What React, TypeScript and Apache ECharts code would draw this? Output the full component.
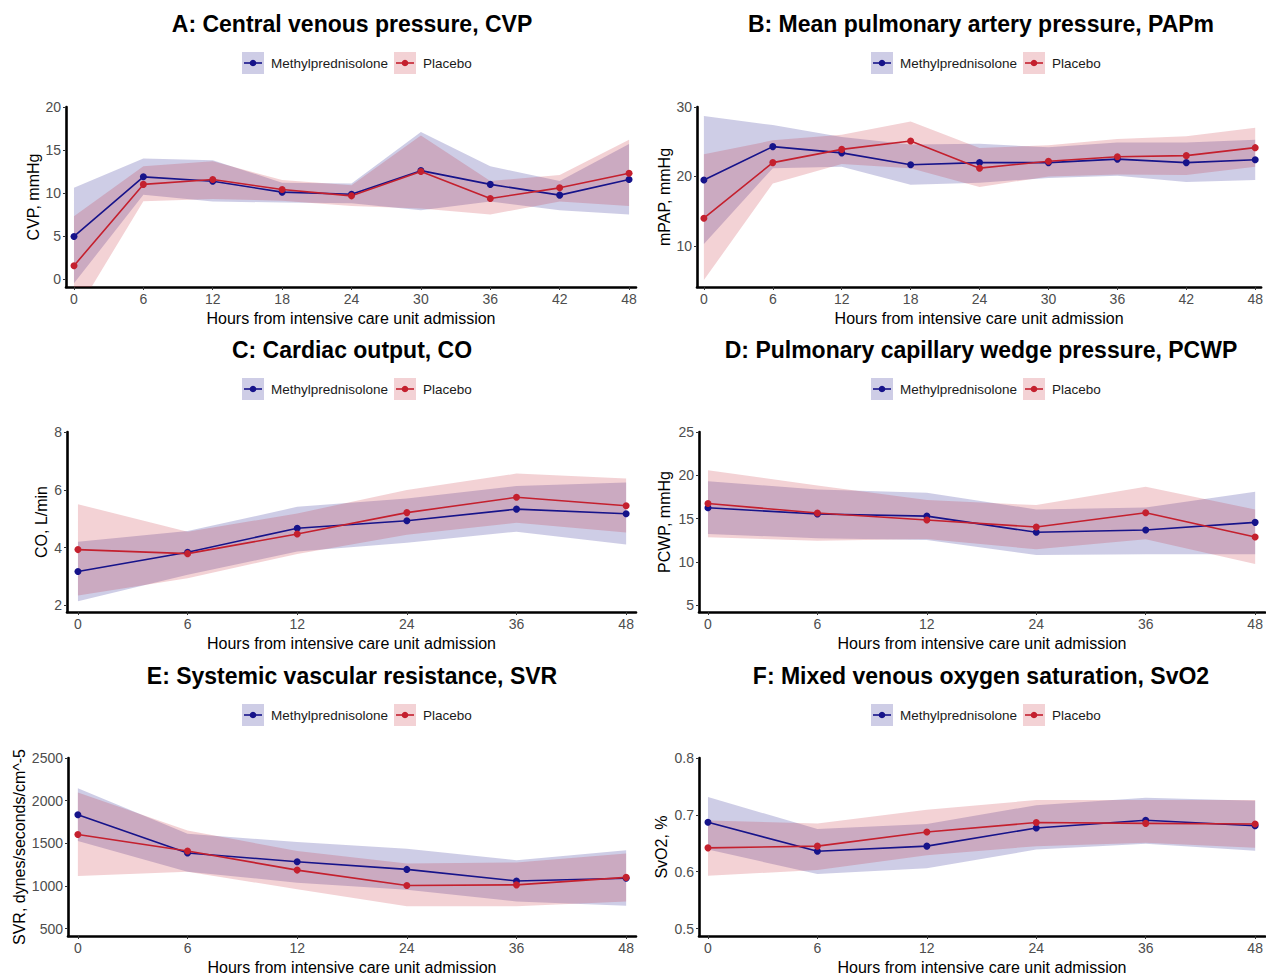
import React, { useEffect, useRef } from "react";
import * as echarts from "echarts";

// ---------- DATA ----------
const hours9 = ["0", "6", "12", "18", "24", "30", "36", "42", "48"];
const hours6 = ["0", "6", "12", "24", "36", "48"];

// A: CVP
const cvpMpMean = [4.95, 11.88, 11.37, 10.1, 9.86, 12.6, 11.0, 9.75, 11.57];
const cvpMpUpper = [10.6, 14.0, 13.8, 11.2, 11.1, 17.1, 13.1, 11.4, 15.7];
const cvpMpLower = [-0.5, 9.8, 9.0, 8.9, 8.8, 8.0, 9.0, 8.0, 7.5];
const cvpPlMean = [1.55, 11.0, 11.57, 10.4, 9.67, 12.5, 9.36, 10.6, 12.3];
const cvpPlUpper = [7.3, 13.1, 13.7, 11.5, 10.9, 16.7, 11.4, 12.1, 16.2];
const cvpPlLower = [-4.3, 9.05, 9.3, 9.1, 8.5, 8.2, 7.5, 9.0, 8.5];

// B: mPAP
const papMpMean = [19.5, 24.3, 23.4, 21.7, 22.0, 22.0, 22.5, 22.0, 22.4];
const papMpUpper = [28.7, 27.4, 25.7, 24.6, 24.7, 24.2, 24.9, 24.9, 25.3];
const papMpLower = [10.3, 21.2, 21.4, 18.8, 19.1, 19.8, 20.1, 19.2, 19.5];
const papPlMean = [14.0, 22.0, 23.9, 25.1, 21.2, 22.2, 22.85, 23.0, 24.15];
const papPlUpper = [23.2, 25.2, 26.0, 27.9, 24.1, 24.5, 25.4, 25.8, 27.0];
const papPlLower = [5.1, 19.0, 21.8, 21.2, 18.5, 20.0, 20.3, 20.2, 21.4];

// C: CO
const coMpMean = [3.17, 3.84, 4.67, 4.93, 5.33, 5.17];
const coMpUpper = [4.2, 4.57, 5.41, 5.7, 6.13, 6.25];
const coMpLower = [2.14, 3.06, 3.86, 4.17, 4.55, 4.11];
const coPlMean = [3.93, 3.79, 4.47, 5.21, 5.74, 5.45];
const coPlUpper = [5.5, 4.55, 5.18, 5.99, 6.56, 6.39];
const coPlLower = [2.34, 2.94, 3.78, 4.44, 4.86, 4.52];

// D: PCWP
const pcwpMpMean = [16.26, 15.54, 15.3, 13.43, 13.7, 14.58];
const pcwpMpUpper = [19.33, 18.37, 17.99, 16.07, 16.3, 18.1];
const pcwpMpLower = [13.24, 12.74, 12.55, 10.82, 10.9, 10.9];
const pcwpPlMean = [16.76, 15.65, 14.85, 14.04, 15.69, 12.89];
const pcwpPlUpper = [20.6, 18.83, 17.15, 16.57, 18.68, 16.07];
const pcwpPlLower = [12.85, 12.47, 12.66, 11.47, 12.62, 9.79];

// E: SVR
const svrMpMean = [1836, 1388, 1284, 1195, 1060, 1091];
const svrMpUpper = [2145, 1612, 1515, 1438, 1303, 1419];
const svrMpLower = [1527, 1168, 1040, 956, 820, 770];
const svrPlMean = [1604, 1411, 1187, 1006, 1014, 1102];
const svrPlUpper = [2095, 1651, 1411, 1264, 1276, 1380];
const svrPlLower = [1118, 1168, 963, 763, 763, 820];

// F: SvO2
const svoMpMean = [0.687, 0.636, 0.645, 0.677, 0.6905, 0.681];
const svoMpUpper = [0.7316, 0.675, 0.684, 0.717, 0.73, 0.725];
const svoMpLower = [0.639, 0.596, 0.606, 0.639, 0.649, 0.637];
const svoPlMean = [0.642, 0.645, 0.67, 0.6865, 0.685, 0.684];
const svoPlUpper = [0.69, 0.685, 0.709, 0.726, 0.726, 0.726];
const svoPlLower = [0.593, 0.603, 0.629, 0.645, 0.651, 0.642];

const yTicksA = [0, 5, 10, 15, 20];
const yTicksB = [10, 20, 30];
const yTicksC = [2, 4, 6, 8];
const yTicksD = [5, 10, 15, 20, 25];
const yTicksE = [500, 1000, 1500, 2000, 2500];
const yTicksF = [0.5, 0.6, 0.7, 0.8];

const seriesNames = ["Methylprednisolone", "Placebo"];
const xAxisTitle = "Hours from intensive care unit admission";

// ---------- STYLE ----------
const FONT = "'Liberation Sans', Arial, Helvetica, sans-serif";
const MP_COLOR = "#16138a";
const PL_COLOR = "#c4202e";
const MP_FILL = "rgba(22,19,138,0.21)";
const PL_FILL = "rgba(196,32,46,0.2)";

const panels = [
  {
    title: "A: Central venous pressure, CVP", yName: "CVP, mmHg", hours: hours9,
    mp: [cvpMpMean, cvpMpLower, cvpMpUpper], pl: [cvpPlMean, cvpPlLower, cvpPlUpper],
    yTicks: yTicksA, yMin: -0.93, yMax: 20, xMin: -0.115, xMax: 8.1,
    grid: { left: 66, top: 107, width: 570, height: 180 }, cx: 352, ty: 24, ly: 63, lx: 242, yGap: 24, dec: 0,
  },
  {
    title: "B: Mean pulmonary artery pressure, PAPm", yName: "mPAP, mmHg", hours: hours9,
    mp: [papMpMean, papMpLower, papMpUpper], pl: [papPlMean, papPlLower, papPlUpper],
    yTicks: yTicksB, yMin: 4.1, yMax: 30, xMin: -0.1, xMax: 8.086,
    grid: { left: 697, top: 107, width: 568, height: 180 }, cx: 981, ty: 24, ly: 63, lx: 871, yGap: 25, dec: 0,
  },
  {
    title: "C: Cardiac output, CO", yName: "CO, L/min", hours: hours6,
    mp: [coMpMean, coMpLower, coMpUpper], pl: [coPlMean, coPlLower, coPlUpper],
    yTicks: yTicksC, yMin: 1.77, yMax: 8, xMin: -0.1, xMax: 5.09,
    grid: { left: 67, top: 432, width: 569, height: 180 }, cx: 352, ty: 350, ly: 389, lx: 242, yGap: 18, dec: 0,
  },
  {
    title: "D: Pulmonary capillary wedge pressure, PCWP", yName: "PCWP, mmHg", hours: hours6,
    mp: [pcwpMpMean, pcwpMpLower, pcwpMpUpper], pl: [pcwpPlMean, pcwpPlLower, pcwpPlUpper],
    yTicks: yTicksD, yMin: 4.24, yMax: 25, xMin: -0.082, xMax: 5.09,
    grid: { left: 699, top: 432, width: 566, height: 180 }, cx: 981, ty: 350, ly: 389, lx: 871, yGap: 27, dec: 0,
  },
  {
    title: "E: Systemic vascular resistance, SVR", yName: "SVR, dynes/seconds/cm^-5", hours: hours6,
    mp: [svrMpMean, svrMpLower, svrMpUpper], pl: [svrPlMean, svrPlLower, svrPlUpper],
    yTicks: yTicksE, yMin: 415, yMax: 2500, xMin: -0.09, xMax: 5.09,
    grid: { left: 68, top: 758, width: 568, height: 180 }, cx: 352, ty: 676, ly: 715, lx: 242, yGap: 41, dec: 0,
  },
  {
    title: "F: Mixed venous oxygen saturation, SvO2", yName: "SvO2, %", hours: hours6,
    mp: [svoMpMean, svoMpLower, svoMpUpper], pl: [svoPlMean, svoPlLower, svoPlUpper],
    yTicks: yTicksF, yMin: 0.487, yMax: 0.8, xMin: -0.082, xMax: 5.09,
    grid: { left: 699, top: 758, width: 566, height: 180 }, cx: 981, ty: 676, ly: 715, lx: 871, yGap: 30, dec: 1,
  },
];

function bandSeries(i: number, lower: number[], upper: number[], fill: string) {
  return {
    type: "custom", xAxisIndex: i, yAxisIndex: i, silent: true, z: 1,
    data: lower.map((v, j) => [j, v, upper[j]]),
    encode: { x: 0, y: [1, 2] },
    renderItem: (params: any, api: any) => {
      if (params.dataIndex !== 0) return null;
      const top = upper.map((v, j) => api.coord([j, v]));
      const bottom = lower.map((v, j) => api.coord([j, v])).reverse();
      const cs = params.coordSys;
      return {
        type: "group",
        clipPath: { type: "rect", shape: { x: cs.x, y: cs.y, width: cs.width, height: cs.height } },
        children: [
          { type: "polygon", shape: { points: top.concat(bottom) }, style: { fill, stroke: "none" } },
        ],
      };
    },
  };
}

function buildOption() {
  const grid: any[] = [];
  const xAxis: any[] = [];
  const yAxis: any[] = [];
  const series: any[] = [];
  const graphic: any[] = [];

  panels.forEach((p, i) => {
    grid.push({ ...p.grid, containLabel: false });
    const idxs = p.hours.map((_, j) => j);
    xAxis.push({
      type: "value", gridIndex: i, min: p.xMin, max: p.xMax,
      axisLine: { show: true, onZero: false, lineStyle: { color: "#000", width: 2.6 } },
      axisTick: { show: true, customValues: idxs, length: 3, lineStyle: { color: "#333", width: 1 } },
      axisLabel: {
        customValues: idxs, color: "#4d4d4d", fontSize: 14, fontFamily: FONT, margin: 5,
        formatter: (v: number) => p.hours[Math.round(v)] ?? "",
      },
      splitLine: { show: false },
      name: xAxisTitle, nameLocation: "middle", nameGap: 23,
      nameTextStyle: { fontSize: 16, color: "#000", fontFamily: FONT },
    });
    yAxis.push({
      type: "value", gridIndex: i, min: p.yMin, max: p.yMax,
      axisLine: { show: true, onZero: false, lineStyle: { color: "#000", width: 2.6 } },
      axisTick: { show: true, customValues: p.yTicks, length: 3, lineStyle: { color: "#333", width: 1 } },
      axisLabel: {
        customValues: p.yTicks, color: "#4d4d4d", fontSize: 14, fontFamily: FONT, margin: 5,
        formatter: (v: number) => (p.dec ? v.toFixed(p.dec) : String(Math.round(v))),
      },
      splitLine: { show: false },
      name: p.yName, nameLocation: "middle", nameGap: p.yGap,
      nameTextStyle: { fontSize: 16, color: "#000", fontFamily: FONT },
    });

    const groups = [
      { name: seriesNames[0], d: p.mp, color: MP_COLOR, fill: MP_FILL },
      { name: seriesNames[1], d: p.pl, color: PL_COLOR, fill: PL_FILL },
    ];
    groups.forEach((g) => {
      const [, lower, upper] = g.d;
      series.push(bandSeries(i, lower, upper, g.fill));
    });
    groups.forEach((g) => {
      const [mean] = g.d;
      series.push({
        type: "line", name: g.name, xAxisIndex: i, yAxisIndex: i,
        data: mean.map((v, j) => [j, v]), symbol: "circle", symbolSize: 7, showSymbol: true,
        itemStyle: { color: g.color }, lineStyle: { color: g.color, width: 1.6 }, z: 3,
      });
    });

    graphic.push({
      type: "text", x: p.cx, y: p.ty,
      style: {
        text: p.title, align: "center", verticalAlign: "middle",
        font: `bold 23px ${FONT}`, fill: "#000",
      },
    });
    const legendItems = [
      { name: seriesNames[0], color: MP_COLOR, fill: MP_FILL, x: p.lx },
      { name: seriesNames[1], color: PL_COLOR, fill: PL_FILL, x: p.lx + 152 },
    ];
    legendItems.forEach((it) => {
      graphic.push({
        type: "group", x: it.x, y: p.ly - 11,
        children: [
          { type: "rect", shape: { x: 0, y: 0, width: 22, height: 22 }, style: { fill: it.fill } },
          { type: "line", shape: { x1: 2, y1: 11, x2: 20, y2: 11 }, style: { stroke: it.color, lineWidth: 1.6 } },
          { type: "circle", shape: { cx: 11, cy: 11, r: 3.3 }, style: { fill: it.color } },
          {
            type: "text", x: 29, y: 11,
            style: { text: it.name, verticalAlign: "middle", align: "left", font: `13.5px ${FONT}`, fill: "#1a1a1a" },
          },
        ],
      });
    });
  });

  return {
    animation: false,
    backgroundColor: "#ffffff",
    grid, xAxis, yAxis, series, graphic,
  };
}

export default function App() {
  const ref = useRef<HTMLDivElement>(null);
  useEffect(() => {
    if (!ref.current) return;
    const chart = echarts.init(ref.current, undefined, { renderer: "svg" });
    chart.setOption(buildOption() as any);
    return () => chart.dispose();
  }, []);
  return (
    <div
      ref={ref}
      style={{ position: "fixed", left: 0, top: 0, width: 1266, height: 976, background: "#fff" }}
    />
  );
}
